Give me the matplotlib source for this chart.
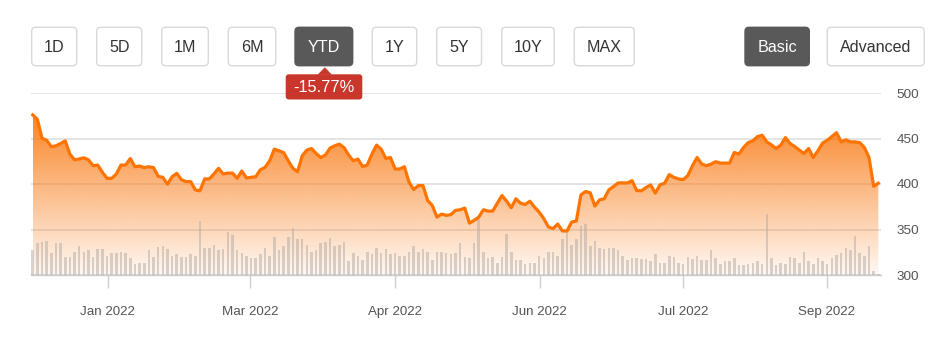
import matplotlib
matplotlib.use("Agg")
import matplotlib.pyplot as plt
import numpy as np
from matplotlib.patches import FancyBboxPatch, Polygon

plt.rcParams['font.family'] = ['Liberation Sans', 'DejaVu Sans']

# ---------------- data ----------------
prices = [
    476, 471, 450.3, 448, 441, 442, 444.5, 447.4, 432.8, 426.6, 427.5, 428.8, 426.6, 420, 420.8, 412.8,
    406.2, 406.2, 411, 420.8, 420.8, 428, 419, 419.7, 418, 419, 418, 408.4, 407.3, 399.7, 408, 411.7,
    404.8, 402.6, 402.6, 393.5, 392.5, 405.6, 405.6, 411, 417.2, 411, 412, 412, 406.2, 414.3, 406.6, 407.3,
    408, 415.7, 418.2, 425.5, 438.3, 436.5, 434.6, 425.5, 417.2, 413.5, 431, 437.2, 439, 433.5, 429.1, 431.8,
    439.4, 442, 443.8, 440, 431.8, 425.5, 427.4, 419.3, 420.8, 432.8, 442.7, 438.3, 428, 429.1, 416.5, 416.5,
    419, 401.9, 393.9, 398.3, 398.3, 381.9, 376.4, 363.6, 366.9, 365.5, 366.3, 371, 371.7, 373.5, 357,
    360, 363.6, 371.7, 370.2, 370.2, 378.9, 387.3, 381.1, 373.9, 383.7, 378.9, 377.5, 381.1, 374.6, 369.1, 361.9,
    352.7, 351, 356, 348.4, 348.4, 358.2, 359.3, 388.1, 391.7, 390.3, 375.7, 382.6, 383.7, 393.5, 397.2,
    401.2, 401.2, 401.2, 403.7, 392.8, 392.5, 396.1, 399, 389.9, 399, 400.8, 410.3, 407.3, 405.6, 404.8, 409.2,
    420.1, 429.1, 421.9, 420.1, 421.9, 424.5, 423, 423, 423, 434.6, 432.9, 440.1, 445.5, 447.4, 452.1,
    453.6, 446.3, 443, 439, 442.7, 451, 444.4, 441.2, 437.2, 433.5, 439, 429.1, 436.5, 444.9, 448.1, 452.1,
    456.4, 446.3, 448.5, 446.3, 446.3, 445.5, 440.1, 429.1, 397.5, 400.8,
]

volumes_m = [
    2.50, 3.17, 3.33, 3.43, 2.23, 3.17, 3.17, 1.77, 1.77, 2.33, 2.90, 2.33, 2.50, 1.77, 2.60, 2.60,
    1.90, 2.23, 2.23, 2.33, 2.23, 1.67, 1.10, 1.23, 1.23, 2.50, 1.77, 2.77, 2.90, 2.60, 1.90, 2.07,
    1.83, 1.77, 2.10, 1.90, 5.40, 2.73, 2.73, 3.00, 2.50, 2.60, 4.33, 4.00, 2.50, 2.17, 1.90, 1.67,
    1.67, 2.10, 2.73, 1.90, 3.83, 2.50, 2.90, 3.83, 4.67, 3.60, 3.60, 3.00, 2.33, 2.50, 3.23,
    3.33, 3.67, 2.90, 3.00, 3.33, 1.40, 2.17, 1.90, 1.50, 2.33, 2.07, 2.73, 2.17, 2.60, 2.07, 2.17,
    1.90, 1.90, 2.33, 2.90, 2.33, 2.60, 2.33, 1.50, 2.33, 2.33, 2.17, 2.07, 2.17, 3.17, 1.77, 1.67,
    3.17, 5.67, 2.33, 1.67, 1.77, 1.23, 1.77, 4.10, 2.33, 1.50, 1.50, 1.10, 1.23, 1.23, 1.90, 1.67,
    2.33, 2.33, 1.90, 3.60, 4.33, 3.00, 3.60, 4.93, 5.10, 2.90, 3.43, 2.73, 2.60, 2.73, 2.73,
    2.50, 1.93, 1.50, 1.67, 1.67, 1.57, 1.57, 1.43, 2.10, 1.23, 1.23, 1.90, 1.77, 1.23, 1.07, 1.77,
    1.57, 1.93, 1.50, 1.50, 2.50, 1.67, 1.10, 1.43, 1.43, 1.67, 1.00, 1.00, 1.10, 1.23, 1.40,
    1.10, 6.07, 1.67, 1.00, 1.23, 1.10, 1.77, 1.67, 1.23, 2.33, 1.40, 1.10, 1.67, 1.40, 1.10, 1.67,
    2.00, 2.17, 2.73, 2.50, 3.90, 2.23, 1.90, 2.90, 0.43, 0.10,
]

x_tick_index = [16.1, 46.8, 78.0, 109.1, 139.9, 170.9]
x_tick_labels = ["Jan 2022", "Mar 2022", "Apr 2022", "Jun 2022", "Jul 2022", "Sep 2022"]
y_ticks = [300, 350, 400, 450, 500]

range_buttons = ["1D", "5D", "1M", "6M", "YTD", "1Y", "5Y", "10Y", "MAX"]
active_range = "YTD"
mode_buttons = ["Basic", "Advanced"]
active_mode = "Basic"
change_label = "-15.77%"

# ---------------- figure ----------------
W, H = 943, 347
fig = plt.figure(figsize=(W / 100, H / 100), dpi=100)
fig.patch.set_facecolor("white")


def px_rect(x0, y0, x1, y1):
    return [x0 / W, 1 - y1 / H, (x1 - x0) / W, (y1 - y0) / H]


rect = px_rect(31, 93, 881, 275)
n = len(prices)
x = np.arange(n)
xlim = (-0.37, n - 1 + 0.58)
ymin, ymax = 300, 500

# base axes: grid, gradient fill, tick labels
ax = fig.add_axes(rect)
ax.set_xlim(*xlim)
ax.set_ylim(ymin, ymax)
ax.set_axisbelow(True)

fill = ax.fill_between(x, prices, ymin, facecolor="none", edgecolor="none")
top = max(prices)
t = np.linspace(0, 1, 256).reshape(-1, 1)
rgba = np.zeros((256, 1, 4))
rgba[..., 0] = 249 / 255
rgba[..., 1] = 124 / 255
rgba[..., 2] = 24 / 255
rgba[..., 3] = 0.94 * (1 - t) + 0.05 * t
im = ax.imshow(rgba, extent=[x[0], x[-1], ymin, top], aspect="auto", origin="upper",
               zorder=1, interpolation="bilinear")
im.set_clip_path(fill.get_paths()[0], ax.transData)
ax.set_xlim(*xlim)
ax.set_ylim(ymin, ymax)

# volume axes
axv = ax.twinx()
axv.set_xlim(*xlim)
axv.set_ylim(0, 18.2)
axv.bar(x, volumes_m, width=0.55, color="#b3aaa4", alpha=0.5, linewidth=0)
axv.set_yticks([])
axv.tick_params(axis="x", length=0, labelbottom=False)
for s in axv.spines.values():
    s.set_visible(False)

# price line axes
axl = ax.twinx()
axl.set_xlim(*xlim)
axl.set_ylim(ymin, ymax)
axl.plot(x, prices, color="#ff7400", lw=2.3, solid_joinstyle="round")
axl.set_yticks([])
axl.tick_params(axis="x", length=0, labelbottom=False)
for s in axl.spines.values():
    s.set_visible(False)

# ticks of the base axes (after twinx, which resets the y tick side)
ax.yaxis.tick_right()
ax.set_yticks(y_ticks)
ax.set_yticklabels([str(v) for v in y_ticks])
ax.grid(axis="y", color="#dcdcdc", lw=1.1)
ax.tick_params(axis="y", which="both", left=False, right=False, labelleft=False, labelright=True,
               length=0, pad=11, labelsize=9.7, labelcolor="#555555")
ax.set_xticks(x_tick_index)
ax.set_xticklabels(x_tick_labels)
ax.tick_params(axis="x", length=9, width=1, color="#d0d0d0", pad=13, labelsize=9.6, labelcolor="#555555")
for s in ["top", "left", "right"]:
    ax.spines[s].set_visible(False)
ax.spines["bottom"].set_color("#cccccc")
ax.spines["bottom"].set_linewidth(1)
ax.spines["bottom"].set_zorder(0.6)

# ---------------- overlay: buttons and badge ----------------
ov = fig.add_axes([0, 0, 1, 1])
ov.set_xlim(0, W)
ov.set_ylim(H, 0)
ov.axis("off")
ov.patch.set_alpha(0)

range_px = [(31.7, 76.7), (96.7, 141.7), (161.7, 208.3), (228.3, 275.7), (295, 352.7),
            (372.3, 416.7), (436.7, 481.5), (501.7, 554.3), (574.3, 634.3)]
mode_px = [(745, 809.3), (827.3, 924.3)]
by0, by1 = 27.3, 65.7


def button(x0, x1, label, active):
    fc = "#595959" if active else "white"
    ec = "#595959" if active else "#d9d9d9"
    p = FancyBboxPatch((x0, by0), x1 - x0, by1 - by0, boxstyle="round,pad=0,rounding_size=4",
                       fc=fc, ec=ec, lw=1)
    ov.add_patch(p)
    ov.text((x0 + x1) / 2, (by0 + by1) / 2 + 0.5, label, ha="center", va="center",
            fontsize=11.6, color="white" if active else "#333333")


for (x0, x1), lab in zip(range_px, range_buttons):
    button(x0, x1, lab, lab == active_range)
for (x0, x1), lab in zip(mode_px, mode_buttons):
    button(x0, x1, lab, lab == active_mode)

red = "#c9372c"
ov.add_patch(FancyBboxPatch((285.7, 74.3), 76.6, 25.2, boxstyle="round,pad=0,rounding_size=3",
                            fc=red, ec=red, lw=0))
ov.add_patch(Polygon([(317.5, 74.8), (324.8, 67.3), (332.0, 74.8)], closed=True, fc=red, ec=red, lw=0))
ov.text(324, 87.2, change_label, ha="center", va="center", fontsize=11.8, color="white")

fig.savefig("out.png", dpi=100, facecolor="white")
